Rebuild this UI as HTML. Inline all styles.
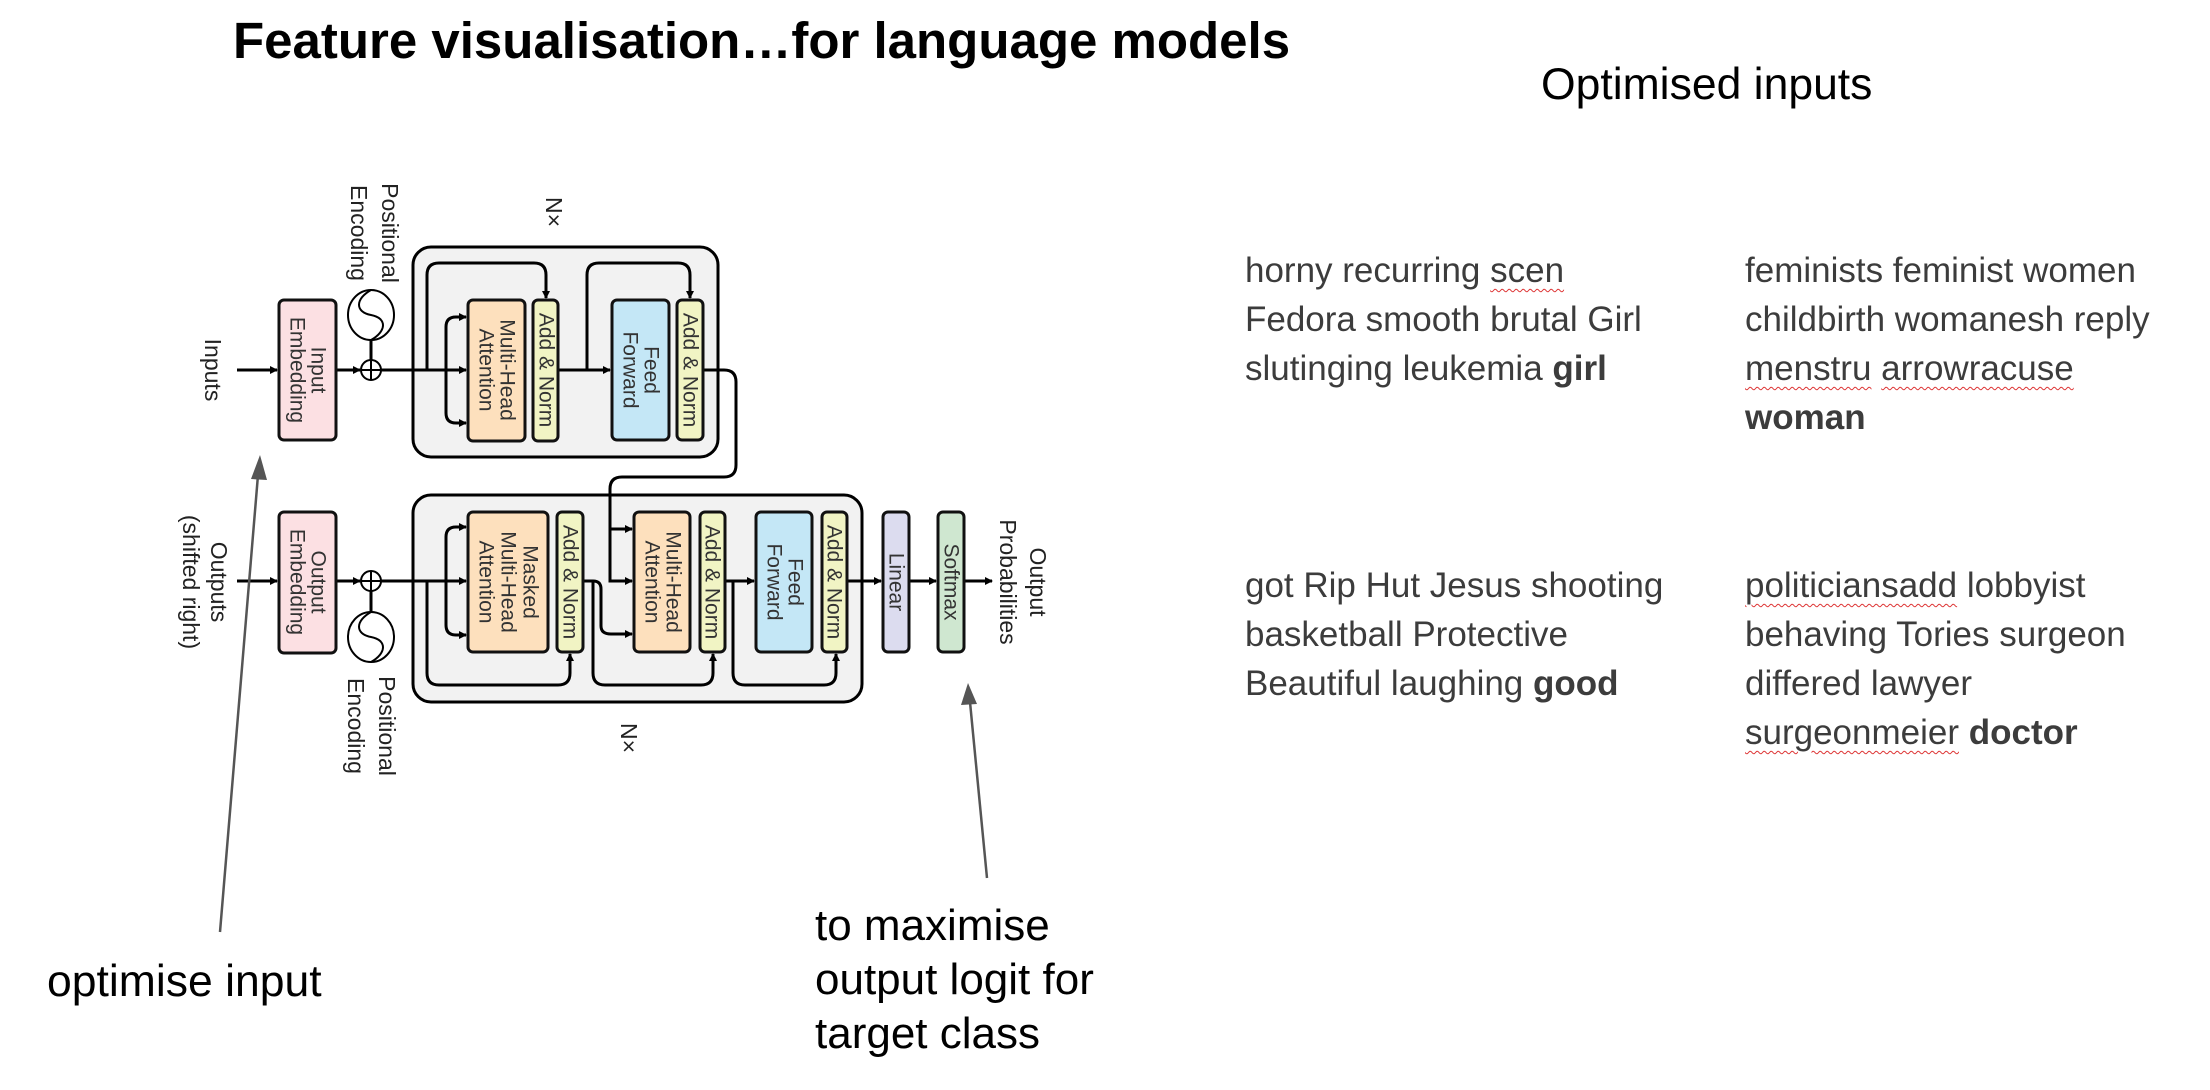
<!DOCTYPE html>
<html><head><meta charset="utf-8">
<style>
html,body{margin:0;padding:0;background:#fff;}
body{width:2210px;height:1090px;position:relative;overflow:hidden;font-family:"Liberation Sans",Arial,sans-serif;}
.t{position:absolute;white-space:nowrap;}
.l{position:absolute;font-size:35px;color:#3c3c3c;line-height:49px;white-space:nowrap;}
.w{text-decoration:underline wavy #d33;text-decoration-thickness:1px;text-underline-offset:6px;}
</style></head><body>
<div class="t" style="left:233px;top:11px;font-size:51px;font-weight:bold;color:#000;">Feature visualisation…for language models</div>
<div class="t" style="left:1541px;top:60px;font-size:44.5px;color:#000;">Optimised inputs</div>

<div class="l" style="left:1245px;top:246px;">horny recurring <span class="w">scen</span><br>Fedora smooth brutal Girl<br>slutinging leukemia <b>girl</b></div>
<div class="l" style="left:1745px;top:246px;">feminists feminist women<br>childbirth womanesh reply<br><span class="w">menstru</span> <span class="w">arrowracuse</span><br><b>woman</b></div>
<div class="l" style="left:1245px;top:561px;">got Rip Hut Jesus shooting<br>basketball Protective<br>Beautiful laughing <b>good</b></div>
<div class="l" style="left:1745px;top:561px;"><span class="w">politiciansadd</span> lobbyist<br>behaving Tories surgeon<br>differed lawyer<br><span class="w">surgeonmeier</span> <b>doctor</b></div>

<div class="t" style="left:47px;top:957px;font-size:44.5px;color:#000;">optimise input</div>
<div class="t" style="left:815px;top:899px;font-size:44px;line-height:54px;color:#000;">to maximise<br>output logit for<br>target class</div>

<svg width="2210" height="1090" style="position:absolute;left:0;top:0" xmlns="http://www.w3.org/2000/svg">
<defs>
<marker id="a" markerWidth="8" markerHeight="8" refX="7" refY="4" orient="auto" markerUnits="userSpaceOnUse"><path d="M0,0 L8,4 L0,8 Z" fill="#000"/></marker>
</defs>
<g font-family="Liberation Sans, Arial, sans-serif" fill="#333">
<rect x="413" y="247" width="305" height="210" rx="18" fill="#f2f2f2" stroke="#000" stroke-width="3"/>
<rect x="413" y="495" width="449" height="207" rx="18" fill="#f2f2f2" stroke="#000" stroke-width="3"/>

<g stroke="#000" stroke-width="3" fill="none">
<line x1="237" y1="370" x2="277" y2="370" marker-end="url(#a)"/>
<line x1="336" y1="370" x2="360" y2="370" marker-end="url(#a)"/>
<line x1="381" y1="370" x2="466" y2="370" marker-end="url(#a)"/>
<line x1="371" y1="338" x2="371" y2="360"/>
<path d="M446,370 V327 Q446,317 456,317 H466" marker-end="url(#a)"/>
<path d="M446,370 V413 Q446,423 456,423 H466" marker-end="url(#a)"/>
<path d="M427,370 V275 Q427,263 439,263 H534 Q546,263 546,275 V298" marker-end="url(#a)"/>
<line x1="558" y1="370" x2="610" y2="370" marker-end="url(#a)"/>
<path d="M587,370 V275 Q587,263 599,263 H678 Q690,263 690,275 V298" marker-end="url(#a)"/>
<path d="M703,370 H724 Q736,370 736,382 V465 Q736,477 724,477 H622 Q610,477 610,489 V529 H632" marker-end="url(#a)"/>
<path d="M610,529 V581 H632" marker-end="url(#a)"/>

<line x1="237" y1="581" x2="277" y2="581" marker-end="url(#a)"/>
<line x1="336" y1="581" x2="360" y2="581" marker-end="url(#a)"/>
<line x1="381" y1="581" x2="466" y2="581" marker-end="url(#a)"/>
<line x1="371" y1="591" x2="371" y2="614"/>
<path d="M446,581 V537 Q446,527 456,527 H466" marker-end="url(#a)"/>
<path d="M446,581 V625 Q446,635 456,635 H466" marker-end="url(#a)"/>
<path d="M427,581 V673 Q427,685 439,685 H558 Q570,685 570,673 V654" marker-end="url(#a)"/>
<path d="M583,581 H593 Q601,581 601,589 V626 Q601,634 611,634 H632" marker-end="url(#a)"/>
<path d="M593,581 V673 Q593,685 605,685 H701 Q713,685 713,673 V654" marker-end="url(#a)"/>
<line x1="725" y1="581" x2="754" y2="581" marker-end="url(#a)"/>
<path d="M733,581 V673 Q733,685 745,685 H824 Q836,685 836,673 V654" marker-end="url(#a)"/>
<line x1="847" y1="581" x2="881" y2="581" marker-end="url(#a)"/>
<line x1="909" y1="581" x2="936" y2="581" marker-end="url(#a)"/>
<line x1="964" y1="581" x2="992" y2="581" marker-end="url(#a)"/>
</g>

<g stroke="#111" stroke-width="3">
<rect x="279" y="300" width="57" height="140" rx="5" fill="#fce0e3"/>
<rect x="279" y="512" width="57" height="141" rx="5" fill="#fce0e3"/>
<rect x="468" y="300" width="57" height="141" rx="5" fill="#fde0bd"/>
<rect x="533" y="300" width="25" height="141" rx="5" fill="#f1f4c4"/>
<rect x="612" y="300" width="57" height="140" rx="5" fill="#c4e7f6"/>
<rect x="677" y="300" width="26" height="140" rx="5" fill="#f1f4c4"/>
<rect x="468" y="512" width="80" height="140" rx="5" fill="#fde0bd"/>
<rect x="557" y="512" width="26" height="140" rx="5" fill="#f1f4c4"/>
<rect x="634" y="512" width="56" height="140" rx="5" fill="#fde0bd"/>
<rect x="700" y="512" width="25" height="140" rx="5" fill="#f1f4c4"/>
<rect x="756" y="512" width="56" height="140" rx="5" fill="#c4e7f6"/>
<rect x="822" y="512" width="25" height="140" rx="5" fill="#f1f4c4"/>
<rect x="883" y="512" width="26" height="140" rx="5" fill="#dcdcef"/>
<rect x="938" y="512" width="26" height="140" rx="5" fill="#cfe7d0"/>
</g>
<g stroke="#000" stroke-width="2" fill="#fff">
<circle cx="371" cy="370" r="10"/>
<ellipse cx="371" cy="315" rx="23" ry="25"/>
<circle cx="371" cy="581" r="10"/>
<ellipse cx="371" cy="637" rx="23" ry="25"/>
</g>
<g stroke="#000" stroke-width="2" fill="none">
<path d="M361,370 H381 M371,360 V380"/>
<path d="M361,581 H381 M371,571 V591"/>
<path d="M371,290 C355,299 355,312 371,315 C387,318 387,331 371,340"/>
<path d="M371,612 C355,621 355,634 371,637 C387,640 387,653 371,662"/>
</g>

<g font-size="21" text-anchor="middle" dominant-baseline="central">
<text transform="translate(318,370) rotate(90)">Input</text>
<text transform="translate(297,370) rotate(90)">Embedding</text>
<text transform="translate(318,582) rotate(90)">Output</text>
<text transform="translate(297,582) rotate(90)">Embedding</text>
<text transform="translate(507,370) rotate(90)">Multi-Head</text>
<text transform="translate(486,370) rotate(90)">Attention</text>
<text transform="translate(546,370) rotate(90)">Add &amp; Norm</text>
<text transform="translate(651,370) rotate(90)">Feed</text>
<text transform="translate(630,370) rotate(90)">Forward</text>
<text transform="translate(690,370) rotate(90)">Add &amp; Norm</text>
<text transform="translate(530,582) rotate(90)">Masked</text>
<text transform="translate(508,582) rotate(90)">Multi-Head</text>
<text transform="translate(486,582) rotate(90)">Attention</text>
<text transform="translate(570,582) rotate(90)">Add &amp; Norm</text>
<text transform="translate(673,582) rotate(90)">Multi-Head</text>
<text transform="translate(652,582) rotate(90)">Attention</text>
<text transform="translate(712,582) rotate(90)">Add &amp; Norm</text>
<text transform="translate(795,582) rotate(90)">Feed</text>
<text transform="translate(774,582) rotate(90)">Forward</text>
<text transform="translate(834,582) rotate(90)">Add &amp; Norm</text>
<text transform="translate(896,582) rotate(90)">Linear</text>
<text transform="translate(951,582) rotate(90)">Softmax</text>
</g>
<g font-size="23" text-anchor="middle" dominant-baseline="central" fill="#222">
<text transform="translate(213,370) rotate(90)">Inputs</text>
<text transform="translate(219,582) rotate(90)">Outputs</text>
<text transform="translate(191,582) rotate(90)">(shifted right)</text>
<text transform="translate(390,233) rotate(90)">Positional</text>
<text transform="translate(359,233) rotate(90)">Encoding</text>
<text transform="translate(387,726) rotate(90)">Positional</text>
<text transform="translate(356,726) rotate(90)">Encoding</text>
<text transform="translate(1038,582) rotate(90)">Output</text>
<text transform="translate(1008,582) rotate(90)">Probabilities</text>
<text transform="translate(554,212) rotate(90)">N×</text>
<text transform="translate(629,738) rotate(90)">N×</text>
</g>
</g>

<g stroke="#555" stroke-width="2.5" fill="#555">
<line x1="220" y1="932" x2="258" y2="475"/>
<path d="M260,455 L251,479 L267,480 Z" stroke="none"/>
<line x1="987" y1="878" x2="970" y2="702"/>
<path d="M968,683 L961,705 L977,704 Z" stroke="none"/>
</g>
</svg>
</body></html>
